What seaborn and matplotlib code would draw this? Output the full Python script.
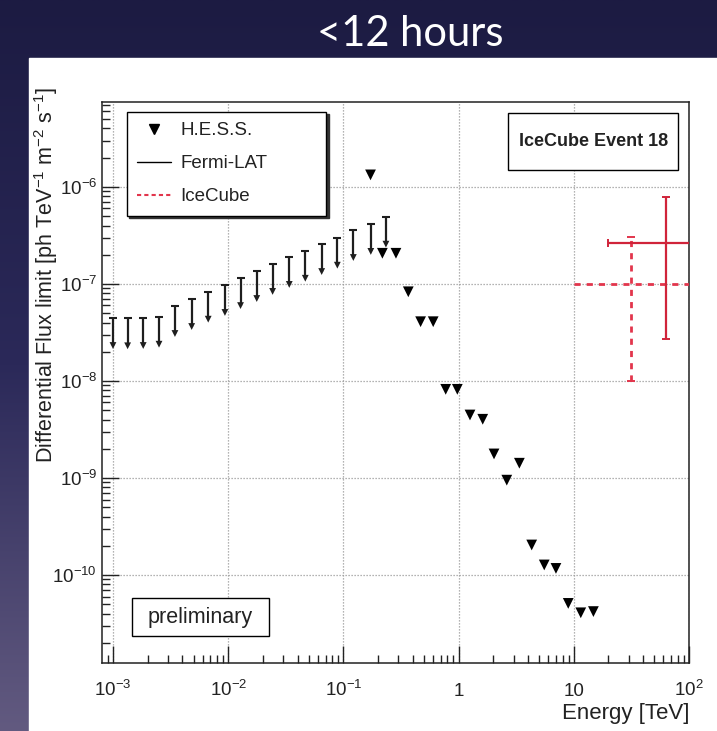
import numpy as np
import pandas as pd
import matplotlib
matplotlib.use("Agg")
import matplotlib.pyplot as plt
import seaborn as sns
from matplotlib.lines import Line2D
from matplotlib.patches import Rectangle, Shadow
from matplotlib.colors import LinearSegmentedColormap
from matplotlib.ticker import LogLocator, NullFormatter

# ---------------- data ----------------
hess_E = [0.172, 0.218, 0.286, 0.366, 0.468, 0.602, 0.773, 0.975, 1.256, 1.62,
          2.03, 2.62, 3.37, 4.31, 5.54, 7.0, 8.95, 11.5, 14.8]
hess_UL = [1.33e-6, 2.07e-7, 2.07e-7, 8.3e-8, 4.08e-8, 4.08e-8, 8.2e-9, 8.2e-9,
           4.46e-9, 4.03e-9, 1.77e-9, 9.5e-10, 1.42e-9, 2.04e-10, 1.27e-10,
           1.17e-10, 5.1e-11, 4.08e-11, 4.2e-11]

fermi_E = [1.00e-3, 1.34e-3, 1.83e-3, 2.51e-3, 3.45e-3, 4.82e-3, 6.71e-3, 9.37e-3,
           1.28e-2, 1.77e-2, 2.43e-2, 3.39e-2, 4.67e-2, 6.48e-2, 8.86e-2, 0.122,
           0.173, 0.234]
fermi_UL = [4.46e-8, 4.43e-8, 4.46e-8, 4.6e-8, 5.93e-8, 7.0e-8, 8.33e-8, 9.77e-8,
            1.15e-7, 1.36e-7, 1.61e-7, 1.90e-7, 2.20e-7, 2.58e-7, 3.0e-7, 3.6e-7,
            4.16e-7, 4.94e-7]
arrow_frac = 0.52

icecube_names = ["dashed", "solid"]
icecube_E = [31.6, 63.0]
icecube_E_lo = [10.0, 20.0]
icecube_E_hi = [100.0, 200.0]
icecube_F = [1.0e-7, 2.67e-7]
icecube_F_lo = [1.0e-8, 2.69e-8]
icecube_F_hi = [3.07e-7, 7.94e-7]

x_ticks = [1e-3, 1e-2, 1e-1, 1, 10, 100]
x_tick_labels = [r"$10^{-3}$", r"$10^{-2}$", r"$10^{-1}$", "1", "10", r"$10^{2}$"]
y_ticks = [1e-10, 1e-9, 1e-8, 1e-7, 1e-6]
y_tick_labels = [r"$10^{-10}$", r"$10^{-9}$", r"$10^{-8}$", r"$10^{-7}$", r"$10^{-6}$"]

legend_labels = ["H.E.S.S.", "Fermi-LAT", "IceCube"]
title_text = "<12 hours"
xlabel_text = "Energy [TeV]"
ylabel_text = r"Differential Flux limit [ph TeV$^{-1}$ m$^{-2}$ s$^{-1}$]"
event_text = "IceCube Event 18"
prelim_text = "preliminary"

# ---------------- style ----------------
sns.set_theme(style="white")
plt.rcParams["font.family"] = ["Liberation Sans", "DejaVu Sans"]
plt.rcParams["mathtext.fontset"] = "custom"
plt.rcParams["mathtext.rm"] = "Liberation Sans"
plt.rcParams["mathtext.it"] = "Liberation Sans:italic"
plt.rcParams["mathtext.bf"] = "Liberation Sans:bold"
plt.rcParams["mathtext.sf"] = "Liberation Sans"

W, H = 717, 731
fig = plt.figure(figsize=(W / 100, H / 100), dpi=100)

# slide background
bg = fig.add_axes([0, 0, 1, 1], zorder=-10)
bg.axis("off")
grad = np.linspace(0, 1, 256)[:, None]
cmap = LinearSegmentedColormap.from_list("bg", ["#1c1b42", "#2b2959", "#625a80"])
bg.imshow(grad, aspect="auto", cmap=cmap, extent=[0, 1, 0, 1])
bg.set_xlim(0, 1)
bg.set_ylim(0, 1)
bg.add_patch(Rectangle((29 / W, 0), 1, (H - 58) / H, color="white"))

fig.text(410 / W, 1 - 34 / H, title_text, color="white", fontsize=30,
         family=["Lato", "DejaVu Sans"], weight="normal", ha="center", va="center")

# main axes
ax = fig.add_axes([102 / W, (H - 663) / H, 587 / W, 561 / H])
ax.set_facecolor("white")
ax.set_xscale("log")
ax.set_yscale("log")
ax.set_xlim(8.03e-4, 100)
ax.set_ylim(1.24e-11, 7.5e-6)

ax.grid(True, which="major", color="#9a9a9a", linestyle=(0, (1, 1.4)), linewidth=0.9)
ax.set_axisbelow(True)

# Fermi-LAT upper-limit arrows
fermi_lo = [u * arrow_frac for u in fermi_UL]
ax.vlines(fermi_E, fermi_lo, fermi_UL, colors="#1e1e1e", linewidth=1.6, zorder=3)
ax.plot(fermi_E, fermi_UL, ls="none", marker="_", ms=6, mew=1.5, color="#1e1e1e", zorder=3)
df_fermi = pd.DataFrame({"E": fermi_E, "lo": fermi_lo})
sns.scatterplot(data=df_fermi, x="E", y="lo", marker="v", s=24, color="#1e1e1e",
                edgecolor="none", ax=ax, legend=False, zorder=4)

# H.E.S.S. upper limits
df_hess = pd.DataFrame({"E": hess_E, "UL": hess_UL})
sns.scatterplot(data=df_hess, x="E", y="UL", marker="v", s=60, color="black",
                edgecolor="none", ax=ax, legend=False, zorder=5)

# IceCube crosses
ice_styles = {"dashed": dict(color="#e2354c", lw=2.0, ls=(0, (2.2, 2.2)), xcaps=False),
              "solid": dict(color="#d0243a", lw=1.6, ls="-", xcaps=True)}
for i, name in enumerate(icecube_names):
    st = ice_styles[name]
    E, F = icecube_E[i], icecube_F[i]
    eb = ax.errorbar([E], [F],
                     xerr=[[E - icecube_E_lo[i]], [icecube_E_hi[i] - E]],
                     yerr=[[F - icecube_F_lo[i]], [icecube_F_hi[i] - F]],
                     fmt="none", ecolor=st["color"], elinewidth=st["lw"],
                     capsize=3, capthick=1.4, zorder=6)
    for col in eb[2]:
        col.set_linestyle(st["ls"])
    if not st["xcaps"]:
        for cl in eb[1]:
            if cl.get_marker() == "|":
                cl.set_visible(False)

# ticks
ax.set_xticks(x_ticks, x_tick_labels, va="baseline")
ax.set_yticks(y_ticks, y_tick_labels)
ax.xaxis.set_minor_locator(LogLocator(base=10, subs=np.arange(2, 10), numticks=100))
ax.yaxis.set_minor_locator(LogLocator(base=10, subs=np.arange(2, 10), numticks=100))
ax.xaxis.set_minor_formatter(NullFormatter())
ax.yaxis.set_minor_formatter(NullFormatter())
ax.tick_params(which="major", direction="in", length=12, width=1.0, color="#222222",
               bottom=True, left=True, top=False, right=False,
               labelsize=13.5, labelcolor="#222222")
ax.tick_params(which="minor", direction="in", length=6, width=1.0, color="#222222",
               bottom=True, left=True, top=False, right=False)
ax.tick_params(axis="x", which="major", pad=24.0)
ax.tick_params(axis="y", which="major", pad=3.6)
for sp in ax.spines.values():
    sp.set_color("#222222")
    sp.set_linewidth(1.1)

ax.set_xlabel(xlabel_text, fontsize=16, color="#222222", loc="right")
ax.xaxis.set_label_coords(1.0, -0.071)
ax.set_ylabel(ylabel_text, fontsize=15.5, color="#222222", loc="top")
ax.yaxis.set_label_coords(-0.071, 1.026)

# legend
handles = [Line2D([], [], marker="v", ls="none", color="black", ms=7),
           Line2D([], [], color="black", lw=1.0),
           Line2D([], [], color="#e2354c", lw=1.5, ls=(0, (2, 1.5)))]
leg = ax.legend(handles, legend_labels, loc="upper left",
                bbox_to_anchor=(0.042, 0.7927, 0.3396, 0.19), mode="expand",
                borderaxespad=0, frameon=True, fancybox=False, edgecolor="black",
                framealpha=1, fontsize=13.5, labelspacing=0.85, handlelength=1.8,
                handletextpad=0.5, borderpad=0.55,
                shadow={"color": "#333333", "alpha": 1})
leg.get_frame().set_linewidth(1.0)
for t in leg.get_texts():
    t.set_color("#222222")

# text boxes
def pave(x0, y0, x1, y1, text, **kw):
    r = Rectangle((x0, y0), x1 - x0, y1 - y0, transform=ax.transAxes,
                  facecolor="white", edgecolor="black", lw=1.0, zorder=8)
    sh = Shadow(r, 2.5, -2.5, facecolor="#333333", alpha=1, zorder=7.9)
    ax.add_patch(sh)
    ax.add_patch(r)
    ax.text((x0 + x1) / 2, (y0 + y1) / 2, text, transform=ax.transAxes,
            ha="center", va="center", zorder=9, color="#222222", **kw)

pave(0.6922, 0.8788, 0.9818, 0.9799, event_text, fontsize=13, weight="bold")
pave(0.0506, 0.0481, 0.2850, 0.1153, prelim_text, fontsize=15.5)

fig.savefig("out.png", dpi=100)
